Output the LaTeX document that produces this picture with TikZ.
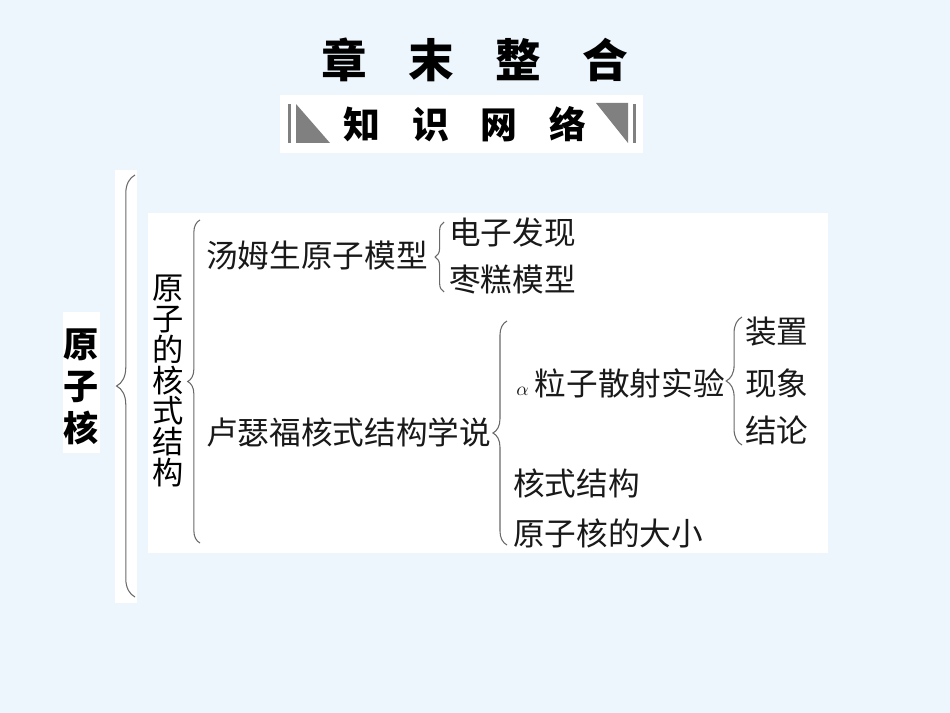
\documentclass[tikz,border=0pt]{standalone}
\usepackage{fontspec}
\newfontfamily\cjk{Noto Sans CJK SC}
\usetikzlibrary{decorations.pathreplacing, positioning}
\definecolor{bgblue}{RGB}{238,246,253}
\definecolor{markgray}{RGB}{128,128,128}
\definecolor{bracegray}{RGB}{105,105,105}
\tikzset{
  item/.style={anchor=west, inner sep=0pt, text=black!90,
    font=\cjk\fontsize{18}{18}\selectfont},
  brc/.style={draw=bracegray, line width=0.6pt, decorate,
    decoration={brace, amplitude=#1}},
  brc/.default=6pt,
  sheet/.style={fill=white, draw=none}
}

\begin{document}
\begin{tikzpicture}[x=0.02cm, y=-0.02cm]
  \fill[bgblue] (0,0) rectangle (950,713);
  \useasboundingbox (0,0) rectangle (950,713);

  % heading
  \node[font=\cjk\bfseries\fontsize{26}{26}\selectfont] (head) at (475,60)
    {章\hspace{0.9em}末\hspace{0.9em}整\hspace{0.9em}合};
  \fill[sheet] (280,95) rectangle (643,153);
  \fill[markgray] (288,104) rectangle (291,143);
  \fill[markgray] (296,104) -- (296,143) -- (330,143) -- cycle;
  \fill[markgray] (596,103) -- (628,103) -- (628,143) -- cycle;
  \fill[markgray] (633,104) rectangle (636,143);
  \node[font=\cjk\bfseries\fontsize{21}{21}\selectfont] (net) at (465,124)
    {知\hspace{0.86em}识\hspace{0.86em}网\hspace{0.86em}络};

  % white sheets
  \fill[sheet] (63,312) rectangle (100,453);
  \fill[sheet] (115,170) rectangle (137,603);
  \fill[sheet] (148,213) rectangle (828,553);

  \node[font=\cjk\bfseries\fontsize{20}{24}\selectfont, align=center,
    inner sep=0pt] (nuc) at (81,387) {原\\子\\核};
  \node[font=\cjk\fontsize{17.8}{17.6}\selectfont, align=center,
    inner sep=0pt] (struct) at (168,381) {原\\子\\的\\核\\式\\结\\构};

  % first level
  \node[item] (thom) at (206,255) {汤姆生原子模型};
  \node[item] (ruth) at (206,432) {卢瑟福核式结构学说};
  % second level
  \node[item] (elec) at (449,232) {电子发现};
  \node[item] (cake) at (449,280) {枣糕模型};
  \node[item] (alpha) at (516,383)
    {{\fontsize{11}{11}\selectfont$\alpha$}\hspace{3.5pt}粒子散射实验};
  \node[item] (core) at (513,483) {核式结构};
  \node[item] (size) at (513,533) {原子核的大小};
  % third level
  \node[item] (setup) at (745,332) {装置};
  \node[item] (seen) at (745,383) {现象};
  \node[item] (concl) at (745,430) {结论};

  % braces
  \coordinate (b1t) at (135,175);
  \coordinate (b1b) at (135,597);
  \coordinate (b2t) at (200,220);
  \coordinate (b2b) at (200,543);
  \coordinate (b3t) at (444,222);
  \coordinate (b3b) at (444,292);
  \coordinate (b4t) at (507,321);
  \coordinate (b4b) at (507,545);
  \coordinate (b5t) at (742,317);
  \coordinate (b5b) at (742,445);
  \draw[brc=10.5pt] (b1b) -- (b1t);
  \draw[brc=7pt] (b2b) -- (b2t);
  \draw[brc=5pt] (b3b) -- (b3t);
  \draw[brc=8pt] (b4b) -- (b4t);
  \draw[brc=9pt] (b5b) -- (b5t);
\end{tikzpicture}
\end{document}
